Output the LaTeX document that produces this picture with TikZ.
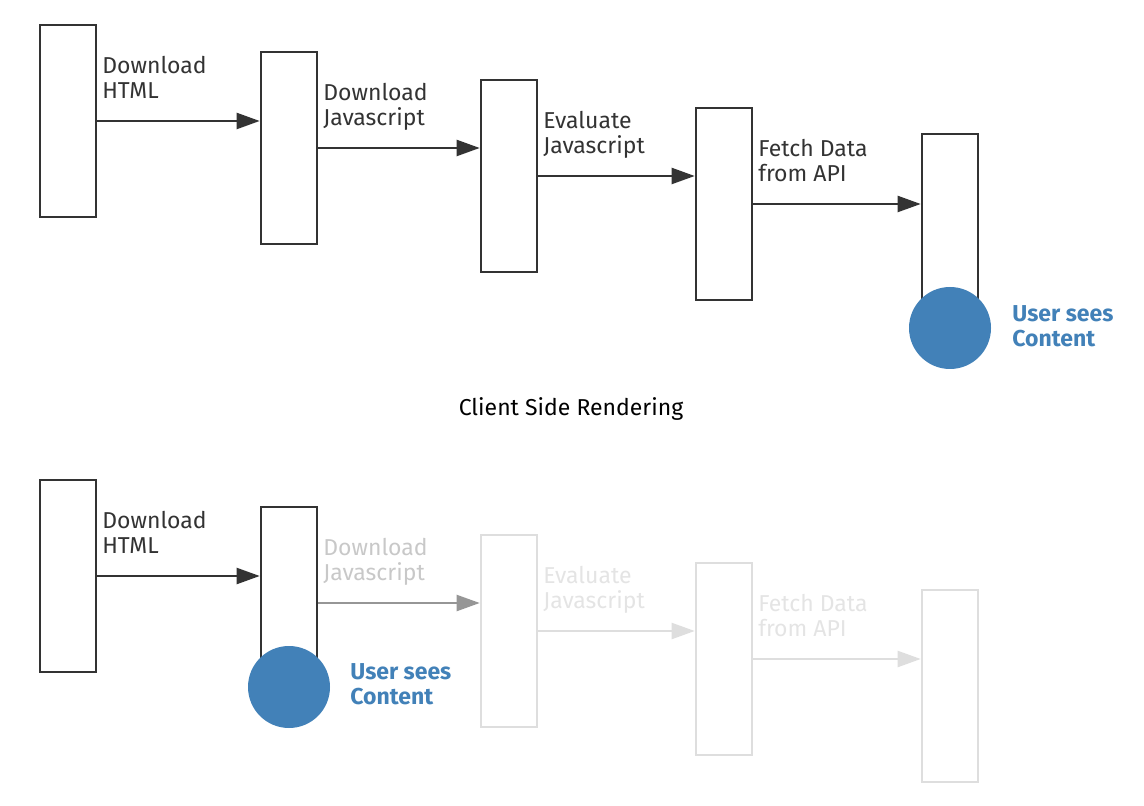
\documentclass[tikz,border=0pt]{standalone}
\usepackage{fontspec}
\setmainfont{Fira Sans}
\usetikzlibrary{arrows.meta}
\definecolor{ink}{RGB}{51,51,51}
\definecolor{dotblue}{RGB}{66,129,184}
\definecolor{halfgray}{RGB}{150,150,150}
\definecolor{fadegray}{RGB}{222,222,222}
\definecolor{fadetext}{RGB}{200,200,200}
\definecolor{paletext}{RGB}{228,228,228}
\tikzset{
  stage/.style={rectangle,draw=ink,line width=1.3pt,fill=white,minimum width=28pt,minimum height=96pt,inner sep=0pt},
  faded/.style={draw=fadegray},
  flow/.style={draw=ink,line width=1.1pt,-{Triangle[length=11.5pt,width=8pt]}},
  lbl/.style={anchor=north west,inner sep=0pt,align=left,text=ink,font=\fontsize{11.5}{12.5}\selectfont},
  seen/.style={circle,fill=dotblue,minimum size=41pt,inner sep=0pt},
  seenlbl/.style={anchor=west,inner sep=0pt,align=left,text=dotblue,font=\fontsize{11.5}{12.5}\selectfont\bfseries}
}
\begin{document}
\begin{tikzpicture}[x=0.5pt,y=-0.5pt]
\useasboundingbox (0,0) rectangle (1144,806);

% client side rendering
\node[stage] (c1) at (68,121) {};
\node[stage] (c2) at (289,148) {};
\node[stage] (c3) at (509,176) {};
\node[stage] (c4) at (724,204) {};
\node[stage] (c5) at (950,230) {};
\draw[flow] (c1.east) -- (c1.east -| c2.west);
\draw[flow] (c2.east) -- (c2.east -| c3.west);
\draw[flow] (c3.east) -- (c3.east -| c4.west);
\draw[flow] (c4.east) -- (c4.east -| c5.west);
\node[lbl] (cl1) at ([xshift=2.3pt,yshift=-16pt]c1.north east) {Download\\HTML};
\node[lbl] (cl2) at ([xshift=2.3pt,yshift=-16pt]c2.north east) {Download\\Javascript};
\node[lbl] (cl3) at ([xshift=2.3pt,yshift=-16pt]c3.north east) {Evaluate\\Javascript};
\node[lbl] (cl4) at ([xshift=2.3pt,yshift=-16pt]c4.north east) {Fetch Data\\from API};
\node[seen] (cdot) at (950,328) {};
\node[seenlbl] (cseen) at (1012,326) {User sees\\Content};

\node[font=\fontsize{11.5}{12.5}\selectfont] (title) at (571,409) {Client Side Rendering};

% server side rendering
\node[stage,faded] (s3) at (509,631) {};
\node[stage,faded] (s4) at (724,659) {};
\node[stage,faded] (s5) at (950,686) {};
\node[stage] (s1) at (68,576) {};
\node[stage] (s2) at (289,603) {};
\draw[flow] (s1.east) -- (s1.east -| s2.west);
\draw[flow,draw=halfgray] (s2.east) -- (s2.east -| s3.west);
\draw[flow,draw=fadegray] (s3.east) -- (s3.east -| s4.west);
\draw[flow,draw=fadegray] (s4.east) -- (s4.east -| s5.west);
\node[lbl] (sl1) at ([xshift=2.3pt,yshift=-16pt]s1.north east) {Download\\HTML};
\node[lbl,text=fadetext] (sl2) at ([xshift=2.3pt,yshift=-16pt]s2.north east) {Download\\Javascript};
\node[lbl,text=paletext] (sl3) at ([xshift=2.3pt,yshift=-16pt]s3.north east) {Evaluate\\Javascript};
\node[lbl,text=paletext] (sl4) at ([xshift=2.3pt,yshift=-16pt]s4.north east) {Fetch Data\\from API};
\node[seen] (sdot) at (289,687) {};
\node[seenlbl] (sseen) at (350,684) {User sees\\Content};
\end{tikzpicture}
\end{document}
